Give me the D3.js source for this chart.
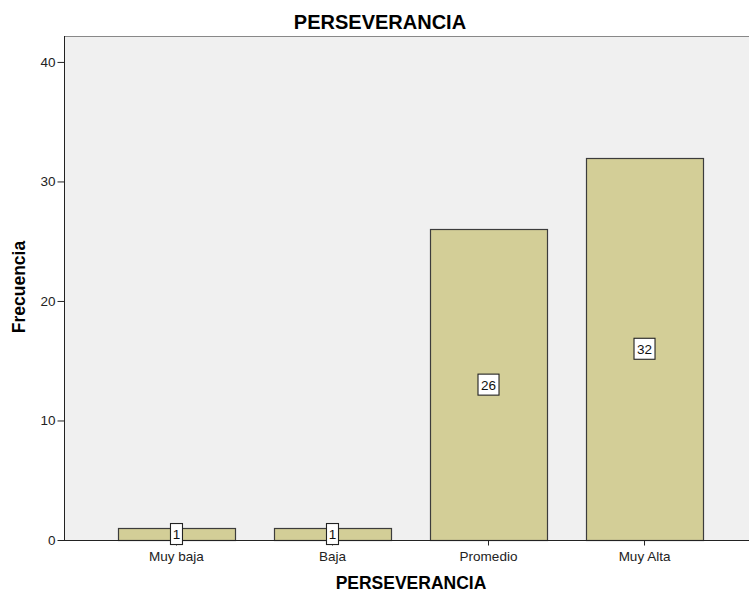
<!DOCTYPE html>
<html>
<head>
<meta charset="utf-8">
<script src="https://cdn.jsdelivr.net/npm/d3@7"></script>
<style>
  body { margin: 0; background: #fff; }
  svg { display: block; font-family: "Liberation Sans", Arial, sans-serif; }
</style>
</head>
<body>
<svg id="chart" width="749" height="594"></svg>
<script>
// Frequency counts for each PERSEVERANCIA level
const categories = ["Muy baja", "Baja", "Promedio", "Muy Alta"];
const frequencies = [1, 1, 26, 32];
const yTicks = [0, 10, 20, 30, 40];

const svg = d3.select("#chart");
const plotLeft = 64, plotTop = 36, plotBottom = 540, plotRight = 749;
const fontFamily = "'Liberation Sans', Arial, sans-serif";

const x = d3.scaleBand()
  .domain(categories)
  .range([plotLeft, 757])
  .paddingInner(0.25)
  .paddingOuter(0.346);

const y = d3.scaleLinear()
  .domain([0, 42.17])
  .range([plotBottom, plotTop]);

// plot background
svg.append("rect")
  .attr("x", plotLeft).attr("y", plotTop)
  .attr("width", plotRight - plotLeft).attr("height", plotBottom - plotTop)
  .attr("fill", "#f0f0f0");

// top frame line
svg.append("line")
  .attr("x1", plotLeft).attr("x2", plotRight)
  .attr("y1", plotTop + 0.5).attr("y2", plotTop + 0.5)
  .attr("stroke", "#888").attr("stroke-width", 1.2);

// bars
svg.selectAll("rect.bar")
  .data(categories.map((c, i) => ({ c, v: frequencies[i] })))
  .join("rect")
  .attr("class", "bar")
  .attr("x", d => Math.round(x(d.c)) + 0.5)
  .attr("y", d => Math.round(y(d.v)) + 0.5)
  .attr("width", Math.round(x.bandwidth()))
  .attr("height", d => plotBottom - Math.round(y(d.v)))
  .attr("fill", "#d3ce97")
  .attr("stroke", "#3c3c3c")
  .attr("stroke-width", 1.2);

// y axis
const yAxis = svg.append("g")
  .attr("transform", `translate(${plotLeft + 0.5},0)`)
  .call(d3.axisLeft(y).tickValues(yTicks).tickSize(7).tickPadding(2));
yAxis.select(".domain").attr("d", `M0,${plotTop}V${plotBottom}`).attr("stroke", "#222");
yAxis.selectAll(".tick line").attr("stroke", "#222");
yAxis.selectAll("text").attr("font-size", 13.5).attr("fill", "#222")
  .attr("font-family", fontFamily);

// x axis
const xAxis = svg.append("g")
  .attr("transform", `translate(0,${plotBottom + 0.5})`)
  .call(d3.axisBottom(x).tickSize(5).tickPadding(6));
xAxis.select(".domain").attr("d", `M${plotLeft},0H${plotRight}`).attr("stroke", "#222");
xAxis.selectAll(".tick line").attr("stroke", "#222");
xAxis.selectAll("text").attr("font-size", 13.5).attr("fill", "#222")
  .attr("font-family", fontFamily);

// value labels in boxes at bar mid-height
const labels = svg.selectAll("g.vlabel")
  .data(categories.map((c, i) => ({ c, v: frequencies[i] })))
  .join("g")
  .attr("class", "vlabel")
  .attr("transform", d => `translate(${x(d.c) + x.bandwidth() / 2},${y(d.v / 2)})`);

labels.each(function(d) {
  const g = d3.select(this);
  g.append("text")
    .attr("text-anchor", "middle")
    .attr("dy", "0.36em")
    .attr("font-size", 13.5)
    .attr("fill", "#111")
    .text(d.v);
  const w = d.v >= 10 ? 21 : 12;
  g.insert("rect", "text")
    .attr("x", -w / 2).attr("y", -10.5)
    .attr("width", w).attr("height", 21)
    .attr("fill", "#fff")
    .attr("stroke", "#222")
    .attr("stroke-width", 1.1);
});

// titles
svg.append("text")
  .attr("x", 380).attr("y", 29)
  .attr("text-anchor", "middle")
  .attr("font-size", 20).attr("font-weight", "bold")
  .text("PERSEVERANCIA");

svg.append("text")
  .attr("x", 411).attr("y", 589)
  .attr("text-anchor", "middle")
  .attr("font-size", 17.5).attr("font-weight", "bold")
  .text("PERSEVERANCIA");

svg.append("text")
  .attr("transform", "translate(25,287) rotate(-90)")
  .attr("text-anchor", "middle")
  .attr("font-size", 17.5).attr("font-weight", "bold")
  .text("Frecuencia");
</script>
</body>
</html>
